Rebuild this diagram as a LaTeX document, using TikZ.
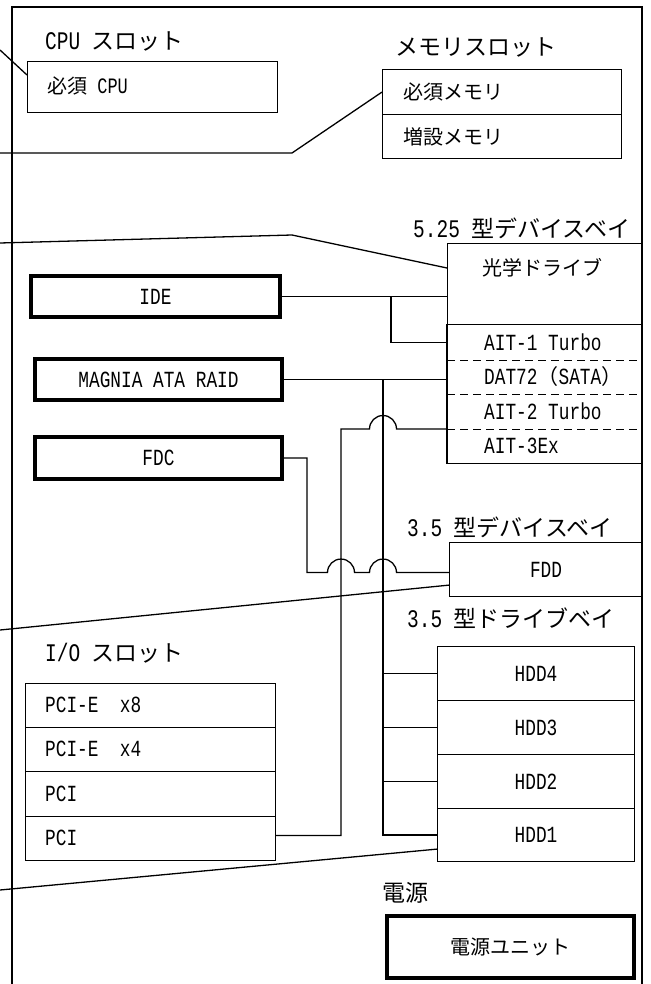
\documentclass[tikz,border=0pt]{standalone}
\usepackage{fontspec}
\setmainfont{Noto Sans CJK JP}
\newfontfamily\latn[FakeStretch=0.77, Scale=1.1]{Liberation Mono}
\usetikzlibrary{calc}
\begin{document}
\begin{tikzpicture}[x=1pt,y=-1pt,
  box/.style={draw, line width=1.1pt, anchor=north west, inner sep=0pt},
  tbox/.style={draw, line width=4pt, anchor=north west, inner sep=0pt, font=\fontsize{21}{24}\selectfont\latn},
  cell/.style={anchor=north west, inner sep=0pt},
  conn/.style={line width=1.3pt},
  frame/.style={line width=2pt},
  sepline/.style={line width=1.1pt, dash pattern=on 8pt off 5pt},
  lbl/.style={anchor=west, inner sep=0pt, font=\fontsize{23}{27}\selectfont},
  jtxt/.style={anchor=west, inner sep=0pt, font=\fontsize{20}{24}\selectfont},
  ltxt/.style={anchor=west, inner sep=0pt, font=\fontsize{21}{24}\selectfont\latn},
  ctxt/.style={font=\fontsize{21}{24}\selectfont\latn}]
\useasboundingbox (0,0) rectangle (650,984);
% outer frame
\draw[frame] (12,984) -- (12,7) -- (642,7) -- (642,984);

% CPU slot
\node[lbl] (cpulbl) at (45,41) {{\latn CPU }スロット};
\node[box, minimum width=250pt, minimum height=51pt] (cpu) at (27,61) {};
\node[jtxt] (cputxt) at (47,86) {必須{\latn\ CPU}};

% memory slot
\node[lbl] (memlbl) at (395,47) {メモリスロット};
\node[box, minimum width=239pt, minimum height=45pt] (mem1) at (382,69) {};
\node[box, minimum width=239pt, minimum height=44pt] (mem2) at (382,114) {};
\node[jtxt] (mem1txt) at (403,92) {必須メモリ};
\node[jtxt] (mem2txt) at (403,137) {増設メモリ};

% 5.25 bay
\node[lbl] (baylbl) at (413,228) {{\latn 5.25 }型デバイスベイ};
\node[box, minimum width=195pt, minimum height=81pt] (opt) at (447,243) {};
\node[jtxt, anchor=center] (opttxt) at (542,268) {光学ドライブ};
\node[cell, minimum width=195pt, minimum height=36pt] (ait1) at (447,324) {};
\node[cell, minimum width=195pt, minimum height=34pt] (dat) at (447,360) {};
\node[cell, minimum width=195pt, minimum height=35pt] (ait2) at (447,394) {};
\node[cell, minimum width=195pt, minimum height=34pt] (ait3) at (447,429) {};
\draw[line width=1.1pt] (ait1.north west) -- (ait3.south west) -- (ait3.south east);
\draw[sepline] (ait1.south west) -- (ait1.south east);
\draw[sepline] (dat.south west) -- (dat.south east);
\draw[sepline] (ait2.south west) -- (ait2.south east);
\node[ltxt] (ait1txt) at (484,342) {AIT-1 Turbo};
\node[ltxt] (dattxt) at (484,377) {DAT72{\rmfamily（}SATA{\rmfamily）}};
\node[ltxt] (ait2txt) at (484,411) {AIT-2 Turbo};
\node[ltxt] (ait3txt) at (484,446) {AIT-3Ex};

% controllers
\node[tbox, minimum width=249pt, minimum height=41pt] (ide) at (29,274) {IDE};
\node[tbox, minimum width=247pt, minimum height=41pt] (raid) at (33,357) {MAGNIA ATA RAID};
\node[tbox, minimum width=247pt, minimum height=42pt] (fdc) at (33,435) {FDC};

% 3.5 device bay
\node[lbl] (fddlbl) at (407,527) {{\latn 3.5 }型デバイスベイ};
\node[box, minimum width=193pt, minimum height=54pt, font=\fontsize{21}{24}\selectfont\latn] (fdd) at (449,542) {FDD};

% 3.5 drive bay
\node[lbl] (hddlbl) at (407,618) {{\latn 3.5 }型ドライブベイ};
\node[box, minimum width=197pt, minimum height=54pt, font=\fontsize{21}{24}\selectfont\latn] (hdd4) at (437,646) {HDD4};
\node[box, minimum width=197pt, minimum height=54pt, font=\fontsize{21}{24}\selectfont\latn] (hdd3) at (437,700) {HDD3};
\node[box, minimum width=197pt, minimum height=54pt, font=\fontsize{21}{24}\selectfont\latn] (hdd2) at (437,754) {HDD2};
\node[box, minimum width=197pt, minimum height=53pt, font=\fontsize{21}{24}\selectfont\latn] (hdd1) at (437,808) {HDD1};

% I/O slot
\node[lbl] (iolbl) at (45,653) {{\latn I/O }スロット};
\node[box, minimum width=250pt, minimum height=44pt] (pcie8) at (25,683) {};
\node[box, minimum width=250pt, minimum height=44pt] (pcie4) at (25,727) {};
\node[box, minimum width=250pt, minimum height=45pt] (pci1) at (25,771) {};
\node[box, minimum width=250pt, minimum height=44pt] (pci2) at (25,816) {};
\node[ltxt] (pcie8txt) at (45,705) {PCI-E\ \ x8};
\node[ltxt] (pcie4txt) at (45,749) {PCI-E\ \ x4};
\node[ltxt] (pci1txt) at (45,794) {PCI};
\node[ltxt] (pci2txt) at (45,838) {PCI};

% power
\node[lbl] (pwrlbl) at (382,893) {電源};
\node[box, line width=4pt, minimum width=247pt, minimum height=62pt, font=\fontsize{20}{24}\selectfont] (psu) at (385,914) {電源ユニット};

% helper coordinates
\coordinate (xb) at (391,0);
\coordinate (xbus) at (383,0);
\coordinate (xp) at (341,0);
\coordinate (xf) at (307,0);
\coordinate (fin) at ([yshift=-3pt]fdd.west);
\coordinate (pout) at ([yshift=3pt]pci2.east);

% IDE connections
\draw[conn] (ide.east) -- (ide.east -| opt.west);
\draw[conn] (ide.east -| xb) |- (ait1.west);
% RAID connections
\draw[conn] (raid.east) -- (raid.east -| dat.west);
\draw[conn] (raid.east -| xbus) -- (hdd1.west -| xbus) -- (hdd1.west);
\draw[conn] (hdd4.west -| xbus) -- (hdd4.west);
\draw[conn] (hdd3.west -| xbus) -- (hdd3.west);
\draw[conn] (hdd2.west -| xbus) -- (hdd2.west);
% PCI to AIT
\draw[conn] (pout) -| (xp |- ait3.north west)
  -- ([xshift=-13.5pt]xbus |- ait3.north west) arc[start angle=180, end angle=0, radius=13.5pt]
  -- (ait3.north west);
% FDC to FDD
\draw[conn] (fdc.east) -| (xf |- fin)
  -- ([xshift=-13.5pt]xp |- fin) arc[start angle=180, end angle=0, radius=13.5pt]
  -- ([xshift=-13.5pt]xbus |- fin) arc[start angle=180, end angle=0, radius=13.5pt]
  -- (fin);

% leader lines from outside
\coordinate (o1) at (0,50);
\coordinate (o2) at (0,153);
\coordinate (b2) at (292,153);
\coordinate (o3) at (0,243);
\coordinate (b3) at (292,235);
\coordinate (o4) at (0,630);
\coordinate (o5) at (0,890);
\draw[conn] (o1) -- ([yshift=-14pt]cpu.north west);
\draw[conn] (o2) -- (b2) -- (mem1.west);
\draw[conn] (o3) -- (b3) -- ([yshift=-25pt]opt.north west);
\draw[conn] (o4) -- ([yshift=12pt]fdd.south west);
\draw[conn] (o5) -- ([yshift=13pt]hdd1.south west);
\end{tikzpicture}
\end{document}
